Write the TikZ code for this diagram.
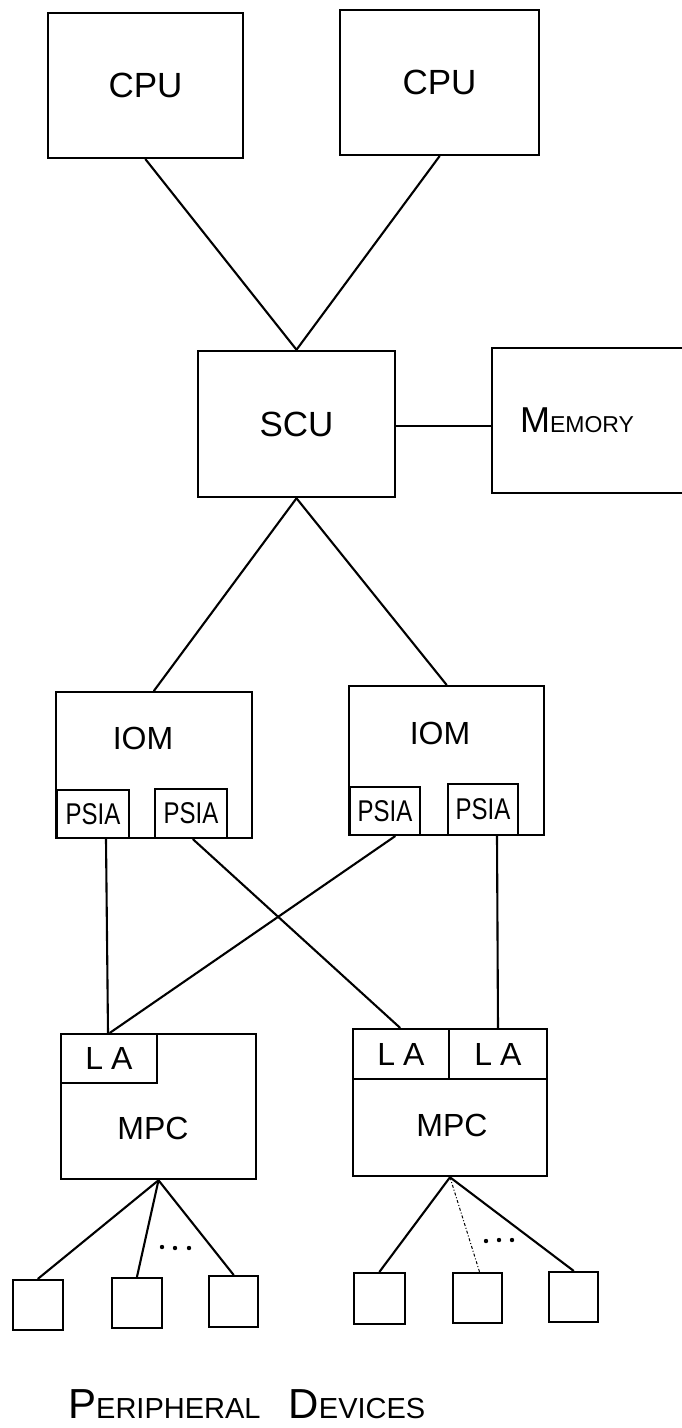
\documentclass[tikz,border=0pt]{standalone}
\usepackage{fontspec}
\setmainfont{Liberation Sans}
\usepackage{graphicx}
\usetikzlibrary{calc}
\newcommand{\fs}[1]{\fontsize{#1}{#1}\selectfont}
\begin{document}
\begin{tikzpicture}[x=1pt,y=-1pt,
  box/.style={draw, rectangle, line width=2.5pt, inner sep=0pt},
  sized/.style n args={2}{minimum width=#1, minimum height=#2},
  link/.style={line width=2.1pt, line cap=round},
  faint/.style={line width=1pt, dash dot},
  big/.style={font=\fs{35}},
  mid/.style={font=\fs{32}},
  small/.style={font=\fs{30}}]
\useasboundingbox (0,0) rectangle (682,1428);

% processors
\node[box, sized={195}{145}, big] (cpu1) at (145.5,85.5) {CPU};
\node[box, sized={199}{145}, big] (cpu2) at (439.5,82.5) {CPU};

% system control unit and memory
\node[box, sized={197}{146}, big] (scu) at (296.5,424) {SCU};
\node[box, sized={208}{145}] (mem) at (596,420.5) {};
\node (memt) at (577,420) {{\fs{36}M}{\fs{23}EMORY}};

% I/O multiplexers with their PSIA ports
\node[box, sized={196}{146}] (iom1) at (154,765) {};
\node[box, sized={195}{149}] (iom2) at (446.5,760.5) {};
\node[mid] (iom1t) at (143,738) {IOM};
\node[mid] (iom2t) at (440,733) {IOM};
\node[box, sized={72}{48}, small] (psia1) at (93,814) {\scalebox{0.8}[1]{PSIA}};
\node[box, sized={72}{49}, small] (psia2) at (191,813.5) {\scalebox{0.8}[1]{PSIA}};
\node[box, sized={70}{48}, small] (psia3) at (385,811) {\scalebox{0.8}[1]{PSIA}};
\node[box, sized={70}{51}, small] (psia4) at (483,809.5) {\scalebox{0.8}[1]{PSIA}};

% microprogrammed peripheral controllers with link adapters
\node[box, sized={195}{145}] (mpc1) at (158.5,1106.5) {};
\node[box, sized={194}{147}] (mpc2) at (450,1102.5) {};
\node[box, sized={96}{49}, mid] (la1) at (109,1058.5) {L\hspace{8pt}A};
\node[box, sized={96}{50}, mid] (la2) at (401,1054) {L\hspace{8pt}A};
\node[box, sized={98}{50}, mid] (la3) at (498,1054) {L\hspace{8pt}A};
\node[mid] (mpc1t) at (153,1128) {MPC};
\node[mid] (mpc2t) at (452,1125) {MPC};

% peripheral devices
\node[box, sized={50}{50}] (dev1) at (38,1305) {};
\node[box, sized={50}{50}] (dev2) at (137,1303) {};
\node[box, sized={49}{51}] (dev3) at (233.5,1301.5) {};
\node[box, sized={51}{51}] (dev4) at (379.5,1298.5) {};
\node[box, sized={49}{50}] (dev5) at (477.5,1298) {};
\node[box, sized={49}{50}] (dev6) at (573.5,1297) {};

\node[anchor=base west, inner sep=0pt] (periph) at (68,1418)
  {{\fs{42}P}{\fs{29}ERIPHERAL}\hspace{28pt}{\fs{42}D}{\fs{29}EVICES}};

% connections
\draw[link] (cpu1.south) -- (scu.north);
\draw[link] (cpu2.south) -- (scu.north);
\draw[link] ([yshift=-2pt]scu.east) -- ([yshift=-2pt]scu.east -| mem.west);
\draw[link] (scu.south) -- (iom1.north);
\draw[link] (scu.south) -- (iom2.north);

\draw[link] ([xshift=13pt]psia1.south) -- ([xshift=-1pt]la1.north);
\draw[link] ([xshift=2pt]psia2.south) -- ([xshift=-1pt]la2.north);
\draw[link] ([xshift=10pt]psia3.south) -- ([xshift=1pt]la1.north);
\draw[link] ([xshift=14pt]psia4.south) -- (la3.north);

\draw[link] (mpc1.south) -- (dev1.north);
\draw[link] (mpc1.south) -- (dev2.north);
\draw[link] (mpc1.south) -- (dev3.north);
\draw[link] (mpc2.south) -- (dev4.north);
\draw[faint] (mpc2.south) -- ([xshift=2pt]dev5.north);
\draw[link] (mpc2.south) -- (dev6.north);

% ellipses between the device links
\foreach \px/\py in {162/1247, 175/1248, 189/1248, 486/1241, 499/1240, 512/1240}
  \fill (\px,\py) circle (2.2);
\end{tikzpicture}
\end{document}
